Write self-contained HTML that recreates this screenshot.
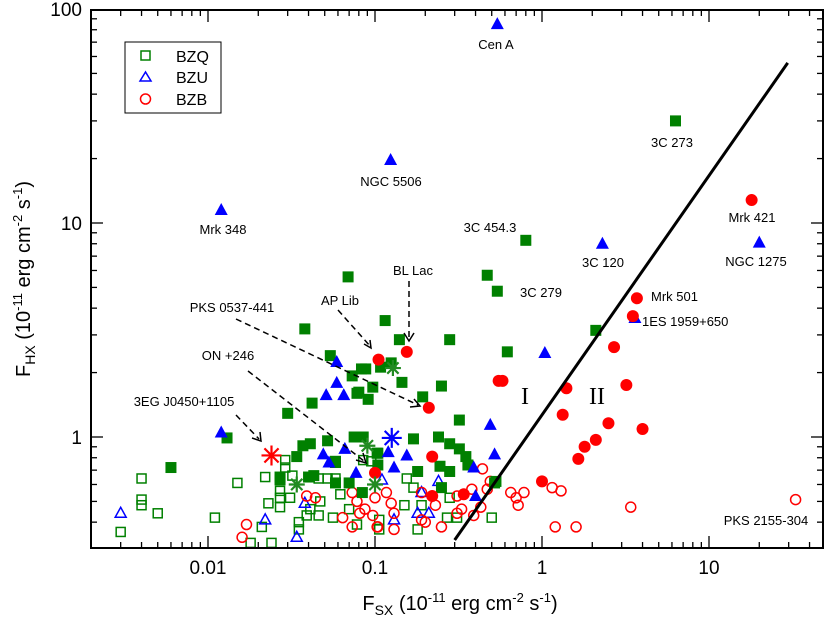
<!DOCTYPE html>
<html><head><meta charset="utf-8"><style>
body{margin:0;background:#fff}
svg{display:block;font-family:"Liberation Sans",sans-serif}
</style></head><body>
<svg id="chart" width="827" height="618" viewBox="0 0 827 618" xmlns="http://www.w3.org/2000/svg">
<rect x="0" y="0" width="827" height="618" fill="#fff"/>
<g id="ticks"></g>
<g id="marks"></g>
<g id="annot" font-size="13" fill="#000">
<text x="496" y="49" text-anchor="middle">Cen A</text>
<text x="391" y="186" text-anchor="middle">NGC 5506</text>
<text x="223" y="234" text-anchor="middle">Mrk 348</text>
<text x="672" y="147" text-anchor="middle">3C 273</text>
<text x="490" y="232" text-anchor="middle">3C 454.3</text>
<text x="603" y="267" text-anchor="middle">3C 120</text>
<text x="752" y="222" text-anchor="middle">Mrk 421</text>
<text x="756" y="266" text-anchor="middle">NGC 1275</text>
<text x="651" y="301">Mrk 501</text>
<text x="642" y="326">1ES 1959+650</text>
<text x="541" y="297" text-anchor="middle">3C 279</text>
<text x="766" y="525" text-anchor="middle">PKS 2155-304</text>
<text x="413" y="275" text-anchor="middle">BL Lac</text>
<text x="340" y="305" text-anchor="middle">AP Lib</text>
<text x="232" y="312" text-anchor="middle">PKS 0537-441</text>
<text x="228" y="360" text-anchor="middle">ON +246</text>
<text x="184" y="406" text-anchor="middle">3EG J0450+1105</text>
<g stroke="#000" stroke-width="1.5" stroke-dasharray="6,4" fill="none">
<line x1="409" y1="281" x2="409" y2="339"/>
<line x1="338" y1="310" x2="370" y2="346"/>
<line x1="236" y1="319" x2="418" y2="405"/>
<line x1="248" y1="371" x2="364" y2="461"/>
<line x1="236" y1="415" x2="259" y2="439"/>
</g>
<g stroke="#000" stroke-width="1.5" fill="none">
<polyline points="404,333 409,341 414,333"/>
<polyline points="364,344 371,348 370,340"/>
<polyline points="410,407 420,406 414,399"/>
<polyline points="356,460 366,463 363,453"/>
<polyline points="252,438 261,441 260,432"/>
</g>
<text x="525" y="404" font-family="Liberation Serif,serif" font-size="24" text-anchor="middle">I</text>
<text x="597" y="404" font-family="Liberation Serif,serif" font-size="24" text-anchor="middle">II</text>
</g>
<rect x="91" y="10" width="732" height="538" fill="none" stroke="#000" stroke-width="2"/>
<g>
<rect x="125" y="42" width="96" height="71" fill="#fff" stroke="#000" stroke-width="1"/>
<rect x="141" y="51" width="9" height="9" fill="none" stroke="#008000" stroke-width="1.5"/>
<polygon points="145.5,72 140,81 151,81" fill="none" stroke="#0000ff" stroke-width="1.5"/>
<circle cx="145.5" cy="99" r="5" fill="none" stroke="#ff0000" stroke-width="1.5"/>
<text x="176" y="62" font-size="16">BZQ</text>
<text x="176" y="83" font-size="16">BZU</text>
<text x="176" y="105" font-size="16">BZB</text>
</g>
<text x="460" y="610" font-size="20" text-anchor="middle">F<tspan font-size="14" dy="5">SX</tspan><tspan dy="-5"> (10</tspan><tspan font-size="13" dy="-8">-11</tspan><tspan dy="8"> erg cm</tspan><tspan font-size="13" dy="-8">-2</tspan><tspan dy="8"> s</tspan><tspan font-size="13" dy="-8">-1</tspan><tspan dy="8">)</tspan></text>
<text transform="translate(30,279) rotate(-90)" font-size="20" text-anchor="middle">F<tspan font-size="14" dy="5">HX</tspan><tspan dy="-5"> (10</tspan><tspan font-size="13" dy="-8">-11</tspan><tspan dy="8"> erg cm</tspan><tspan font-size="13" dy="-8">-2</tspan><tspan dy="8"> s</tspan><tspan font-size="13" dy="-8">-1</tspan><tspan dy="8">)</tspan></text>
</svg>
<script>
const xTickVals=[0.01,0.1,1,10];
const xTickLabels=["0.01","0.1","1","10"];
const yTickVals=[1,10,100];
const yTickLabels=["1","10","100"];
const qfX=[6.3,0.8,0.47,0.54,0.62,2.1,0.069,0.038,0.115,0.14,0.054,0.083,0.073,0.108,0.125,0.145,0.097,0.080,0.091,0.042,0.030,0.193,0.28,0.25,0.32,0.17,0.24,0.28,0.32,0.35,0.36,0.245,0.28,0.18,0.104,0.104,0.088,0.52,0.25,0.006,0.013,0.027,0.037,0.041,0.052,0.058,0.040,0.034,0.058,0.075,0.085,0.078,0.043,0.027,0.058,0.07,0.103,0.084,0.53];
const qfY=[30,8.3,5.7,4.8,2.5,3.15,5.6,3.2,3.5,2.85,2.4,2.08,1.93,2.12,2.22,1.8,1.71,1.62,1.5,1.44,1.29,1.54,2.85,1.73,1.2,0.98,1.0,0.93,0.88,0.81,0.74,0.73,0.69,0.69,0.84,0.74,2.08,0.61,0.58,0.72,0.99,0.65,0.91,0.93,0.96,0.77,0.65,0.81,0.61,1.0,1.0,1.6,0.66,0.63,0.76,0.61,0.84,0.55,0.62];
const qoX=[0.003,0.004,0.004,0.004,0.005,0.011,0.015,0.018,0.022,0.021,0.024,0.023,0.027,0.027,0.027,0.029,0.029,0.032,0.031,0.035,0.035,0.039,0.046,0.041,0.047,0.046,0.052,0.058,0.056,0.062,0.07,0.078,0.155,0.17,0.15,0.19,0.106,0.106,0.18,0.27,0.31,0.5,0.28,0.095,0.085];
const qoY=[0.36,0.64,0.51,0.48,0.44,0.42,0.61,0.32,0.65,0.38,0.32,0.49,0.56,0.52,0.47,0.78,0.72,0.66,0.52,0.4,0.37,0.43,0.43,0.46,0.5,0.64,0.64,0.64,0.42,0.54,0.46,0.39,0.64,0.58,0.48,0.48,0.41,0.37,0.37,0.42,0.42,0.42,0.52,0.77,0.78];
const ufX=[0.54,0.124,0.012,2.3,20,0.059,0.059,0.051,0.065,1.04,0.49,0.52,0.39,0.155,0.13,0.12,0.012,0.049,0.053,0.066,0.077,0.40,3.6];
const ufY=[85,19.7,11.5,8,8.1,2.24,1.79,1.57,1.57,2.47,1.14,0.83,0.72,0.82,0.72,0.85,1.05,0.83,0.76,0.88,0.68,0.53,3.6];
const uoX=[0.003,0.022,0.034,0.038,0.11,0.24,0.13,0.21,0.19,0.18];
const uoY=[0.44,0.41,0.34,0.49,0.63,0.62,0.41,0.44,0.55,0.44];
const bfX=[18,3.7,3.5,2.7,3.2,1.4,1.33,2.5,4.0,2.1,1.8,1.65,1.0,0.55,0.58,0.155,0.105,0.21,0.22,0.1,0.22,0.34];
const bfY=[12.8,4.45,3.67,2.63,1.75,1.69,1.27,1.16,1.09,0.97,0.9,0.79,0.62,1.83,1.83,2.5,2.3,1.37,0.81,0.68,0.53,0.54];
const boX=[0.017,0.016,0.039,0.044,0.073,0.078,0.087,0.081,0.064,0.073,0.097,0.1,0.103,0.117,0.125,0.13,0.104,0.13,0.19,0.23,0.19,0.2,0.25,0.31,0.33,0.31,0.38,0.43,0.39,0.47,0.49,0.44,0.65,0.7,0.72,0.78,1.15,1.3,1.2,1.6,3.4,33];
const boY=[0.39,0.34,0.53,0.52,0.55,0.5,0.46,0.44,0.42,0.38,0.43,0.52,0.38,0.55,0.49,0.44,0.38,0.37,0.55,0.48,0.41,0.40,0.38,0.53,0.46,0.44,0.57,0.47,0.43,0.57,0.62,0.71,0.55,0.52,0.48,0.55,0.58,0.56,0.38,0.38,0.47,0.51];
const starX=[0.024,0.128,0.034,0.09,0.1,0.126];
const starY=[0.82,2.1,0.6,0.91,0.6,0.99];
const starColor=["#ff0000","#228b22","#228b22","#228b22","#228b22","#0000ff"];
const lineX=[0.3,29.6];
const lineY=[0.33,56];

const NS="http://www.w3.org/2000/svg";
function sx(v){return 208+167*(Math.log10(v)+2);}
function sy(v){return 437-214*Math.log10(v);}
const marks=document.getElementById('marks');
const ticks=document.getElementById('ticks');
function mk(tag,attrs,parent){const e=document.createElementNS(NS,tag);for(const k in attrs)e.setAttribute(k,attrs[k]);(parent||marks).appendChild(e);return e;}

// ticks
const X0=91,X1=823,Y0=10,Y1=548;
for(let d=-3;d<=1;d++){for(let m=1;m<=9;m++){const v=m*Math.pow(10,d);const x=sx(v);if(x<X0+1||x>X1-1)continue;const L=m===1?12:6;
const t1=mk('line',{x1:x,x2:x,y1:Y1,y2:Y1-L,stroke:'#000','stroke-width':1.3},ticks);


const t2=mk('line',{x1:x,x2:x,y1:Y0,y2:Y0+L,stroke:'#000','stroke-width':1.3},ticks);

}}
for(let d=-1;d<=1;d++){for(let m=1;m<=9;m++){const v=m*Math.pow(10,d);const y=sy(v);if(y>Y1-1||y<Y0-1)continue;const L=m===1?12:6;
const t1=mk('line',{x1:X0,x2:X0+L,y1:y,y2:y,stroke:'#000','stroke-width':1.3},ticks);


const t2=mk('line',{x1:X1,x2:X1-L,y1:y,y2:y,stroke:'#000','stroke-width':1.3},ticks);

}}
xTickVals.forEach((v,i)=>{const t=mk('text',{x:sx(v),y:574,'font-size':19,'text-anchor':'middle'},ticks);t.textContent=xTickLabels[i];

});
yTickVals.forEach((v,i)=>{const t=mk('text',{x:82,y:sy(v)+7,'font-size':19,'text-anchor':'end'},ticks);t.textContent=yTickLabels[i];

});

// series
qoX.forEach((v,i)=>{const x=sx(v),y=sy(qoY[i]);const e=mk('rect',{x:x-4.5,y:y-4.5,width:9,height:9,fill:'none',stroke:'#008000','stroke-width':1.5});

});
uoX.forEach((v,i)=>{const x=sx(v),y=sy(uoY[i]);const e=mk('polygon',{points:`${x},${y-6} ${x-5.5},${y+4} ${x+5.5},${y+4}`,fill:'none',stroke:'#0000ff','stroke-width':1.5});

});
boX.forEach((v,i)=>{const x=sx(v),y=sy(boY[i]);const e=mk('circle',{cx:x,cy:y,r:5,fill:'none',stroke:'#ff0000','stroke-width':1.5});

});
qfX.forEach((v,i)=>{const x=sx(v),y=sy(qfY[i]);const e=mk('rect',{x:x-5.5,y:y-5.5,width:11,height:11,fill:'#008000'});

});
ufX.forEach((v,i)=>{const x=sx(v),y=sy(ufY[i]);const e=mk('polygon',{points:`${x},${y-7} ${x-6.5},${y+5} ${x+6.5},${y+5}`,fill:'#0000ff'});

});
bfX.forEach((v,i)=>{const x=sx(v),y=sy(bfY[i]);const e=mk('circle',{cx:x,cy:y,r:6,fill:'#ff0000'});

});
starX.forEach((v,i)=>{const x=sx(v),y=sy(starY[i]);const r=i===5?10:(i===0?10:8);let d='';
for(let k=0;k<4;k++){const a=k*Math.PI/4;d+=`M${x-r*Math.cos(a)},${y-r*Math.sin(a)}L${x+r*Math.cos(a)},${y+r*Math.sin(a)}`;}
const e=mk('path',{d:d,stroke:starColor[i],'stroke-width':2.2,fill:'none'});

});
const ln=mk('line',{x1:sx(lineX[0]),y1:sy(lineY[0]),x2:sx(lineX[1]),y2:sy(lineY[1]),stroke:'#000','stroke-width':3});


</script>
</body></html>
